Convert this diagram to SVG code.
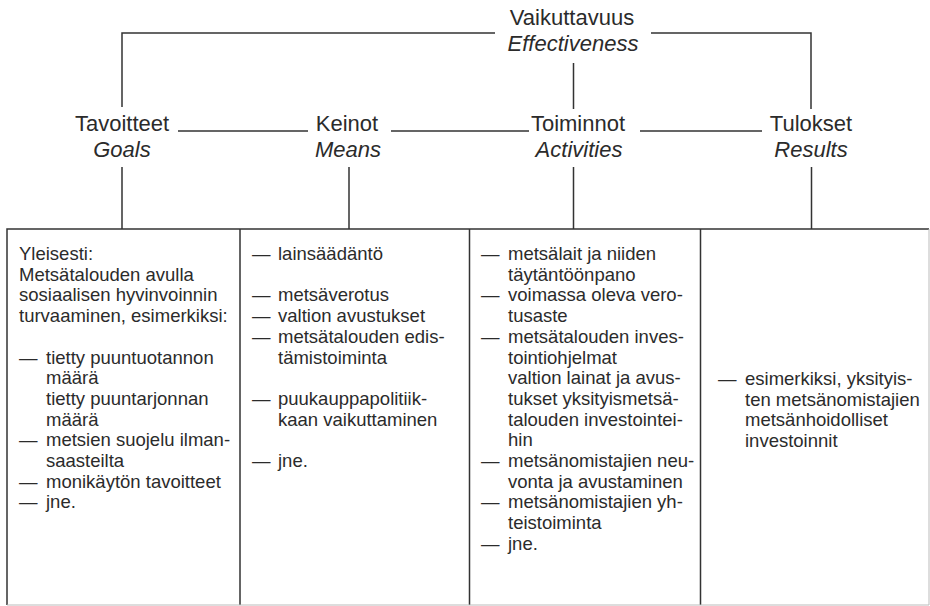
<svg xmlns="http://www.w3.org/2000/svg" width="930" height="606" viewBox="0 0 930 606">
<style>
text{font-family:"Liberation Sans",Arial,sans-serif;fill:#2b2b2b}
.h{font-size:22px;text-anchor:middle}
.i{font-style:italic}
.b{font-size:18.5px}
.ln{stroke:#333;stroke-width:1.5;fill:none}
.faint{stroke:#bbb;stroke-width:1;fill:none}
</style>
<rect width="930" height="606" fill="#fff"/>
<g id="connectors">
<path class="ln" d="M122,107 V33 H495 M651,33 H811 V109 M573.5,63 V109"/>
<path class="ln" d="M178,131 H308 M391,131 H529 M640,131 H762"/>
<path class="ln" d="M122,167 V229 M349,167 V229 M573.5,167 V229 M811.5,167 V229"/>
</g>
<g id="effectiveness">
<text class="h" x="572" y="25">Vaikuttavuus</text>
<text class="h i" x="573" y="51">Effectiveness</text>
</g>
<g id="goals">
<text class="h" x="122" y="131">Tavoitteet</text>
<text class="h i" x="122" y="157">Goals</text>
</g>
<g id="means">
<text class="h" x="347" y="131">Keinot</text>
<text class="h i" x="348" y="157">Means</text>
</g>
<g id="activities">
<text class="h" x="578" y="131">Toiminnot</text>
<text class="h i" x="579" y="157">Activities</text>
</g>
<g id="results">
<text class="h" x="811" y="131">Tulokset</text>
<text class="h i" x="811" y="157">Results</text>
</g>
<g id="table">
<path class="ln" d="M7,605 V229 H929 M240,229 V605 M469.5,229 V605 M700.5,229 V605"/>
<path class="faint" d="M7,605 H929 V229"/>
</g>
<g id="goals-list">
<text class="b">
<tspan x="19" y="260">Yleisesti:</tspan>
<tspan x="19" y="280.7">Metsätalouden avulla</tspan>
<tspan x="19" y="301.4">sosiaalisen hyvinvoinnin</tspan>
<tspan x="19" y="322.1">turvaaminen, esimerkiksi:</tspan>
<tspan x="19" y="363.5">—</tspan><tspan x="46" y="363.5">tietty puuntuotannon</tspan>
<tspan x="46" y="384.2">määrä</tspan>
<tspan x="46" y="404.9">tietty puuntarjonnan</tspan>
<tspan x="46" y="425.6">määrä</tspan>
<tspan x="19" y="446.3">—</tspan><tspan x="46" y="446.3">metsien suojelu ilman-</tspan>
<tspan x="46" y="467">saasteilta</tspan>
<tspan x="19" y="487.7">—</tspan><tspan x="46" y="487.7">monikäytön tavoitteet</tspan>
<tspan x="19" y="508.4">—</tspan><tspan x="46" y="508.4">jne.</tspan>
</text>
</g>
<g id="means-list">
<text class="b">
<tspan x="252" y="260">—</tspan><tspan x="278" y="260">lainsäädäntö</tspan>
<tspan x="252" y="301.4">—</tspan><tspan x="278" y="301.4">metsäverotus</tspan>
<tspan x="252" y="322.1">—</tspan><tspan x="278" y="322.1">valtion avustukset</tspan>
<tspan x="252" y="342.8">—</tspan><tspan x="278" y="342.8">metsätalouden edis-</tspan>
<tspan x="278" y="363.5">tämistoiminta</tspan>
<tspan x="252" y="404.9">—</tspan><tspan x="278" y="404.9">puukauppapolitiik-</tspan>
<tspan x="278" y="425.6">kaan vaikuttaminen</tspan>
<tspan x="252" y="467">—</tspan><tspan x="278" y="467">jne.</tspan>
</text>
</g>
<g id="activities-list">
<text class="b">
<tspan x="481" y="260">—</tspan><tspan x="508" y="260">metsälait ja niiden</tspan>
<tspan x="508" y="280.7">täytäntöönpano</tspan>
<tspan x="481" y="301.4">—</tspan><tspan x="508" y="301.4">voimassa oleva vero-</tspan>
<tspan x="508" y="322.1">tusaste</tspan>
<tspan x="481" y="342.8">—</tspan><tspan x="508" y="342.8">metsätalouden inves-</tspan>
<tspan x="508" y="363.5">tointiohjelmat</tspan>
<tspan x="508" y="384.2">valtion lainat ja avus-</tspan>
<tspan x="508" y="404.9">tukset yksityismetsä-</tspan>
<tspan x="508" y="425.6">talouden investointei-</tspan>
<tspan x="508" y="446.3">hin</tspan>
<tspan x="481" y="467">—</tspan><tspan x="508" y="467">metsänomistajien neu-</tspan>
<tspan x="508" y="487.7">vonta ja avustaminen</tspan>
<tspan x="481" y="508.4">—</tspan><tspan x="508" y="508.4">metsänomistajien yh-</tspan>
<tspan x="508" y="529.1">teistoiminta</tspan>
<tspan x="481" y="549.8">—</tspan><tspan x="508" y="549.8">jne.</tspan>
</text>
</g>
<g id="results-list">
<text class="b">
<tspan x="718" y="385">—</tspan><tspan x="745" y="385">esimerkiksi, yksityis-</tspan>
<tspan x="745" y="405.7">ten metsänomistajien</tspan>
<tspan x="745" y="426.4">metsänhoidolliset</tspan>
<tspan x="745" y="447.1">investoinnit</tspan>
</text>
</g>
</svg>
